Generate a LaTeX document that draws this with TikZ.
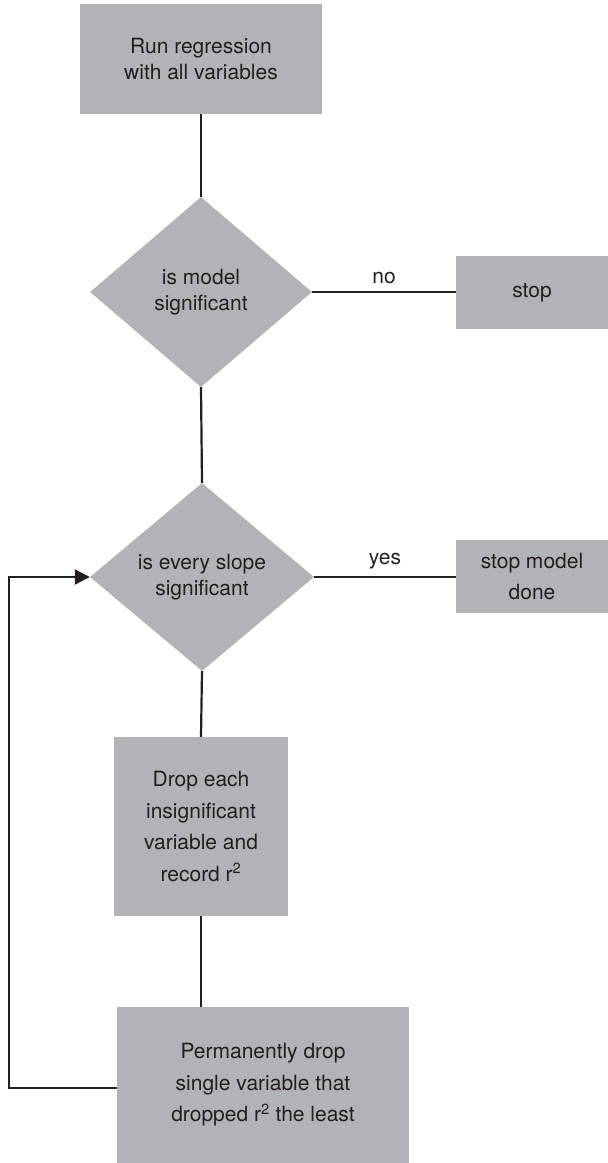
\documentclass[tikz,border=0pt]{standalone}
\usepackage{fontspec}
\setmainfont{TeX Gyre Heros}
\usetikzlibrary{shapes.geometric,arrows.meta}
\definecolor{boxgray}{HTML}{B2B3B5}
\definecolor{txt}{HTML}{231F20}
\definecolor{ln}{HTML}{231F20}
\tikzset{
  procbox/.style={rectangle, fill=boxgray, draw=none, inner sep=0pt, align=center, text=txt, font=\fontsize{21}{26}\selectfont},
  wide/.style={font=\fontsize{21}{31.5}\selectfont},
  decbox/.style={diamond, fill=boxgray, draw=none, inner sep=0pt, align=center, text=txt, font=\fontsize{21}{26}\selectfont},
  conn/.style={draw=ln, line width=2.2pt},
  lbl/.style={text=txt, font=\fontsize{21}{26}\selectfont, inner sep=0pt}
}
\begin{document}
\begin{tikzpicture}[x=1pt,y=-1pt]
\useasboundingbox (0,0) rectangle (608,1163);
\node[procbox, minimum width=242pt, minimum height=110pt] (run) at (201,59) {Run regression\\with all variables};
\node[decbox, minimum width=222pt, minimum height=190pt] (d1) at (201,292) {is model\\significant};
\node[procbox, minimum width=152pt, minimum height=73pt] (stop) at (532,292.5) {stop};
\node[decbox, minimum width=224pt, minimum height=188pt] (d2) at (202,577) {is every slope\\significant};
\node[procbox, wide, minimum width=152pt, minimum height=73pt] (done) at (532,576.5) {stop model\\done};
\node[procbox, wide, minimum width=174pt, minimum height=179pt] (drop) at (201,826.5) {Drop each\\insignificant\\variable and\\record r\textsuperscript{2}};
\node[procbox, wide, minimum width=292pt, minimum height=156pt] (perm) at (263,1085) {Permanently drop\\single variable that\\dropped r\textsuperscript{2} the least};
\coordinate (lb) at (9,1088);
\coordinate (lt) at (9,577);
\draw[conn] (run.south -| 201,0) -- (d1.north);
\draw[conn] (d1.east) -- node[lbl, above=7pt] {no} (stop.west |- d1.east);
\draw[conn] (d1.south) -- (d2.north);
\draw[conn] (d2.east) -- node[lbl, above=7pt] {yes} (done.west |- d2.east);
\draw[conn] (d2.south) -- (drop.north);
\draw[conn] (drop.south) -- (drop.south |- perm.north);
\draw[conn, -{Triangle[length=15pt,width=15pt]}] (perm.west |- lb) -- (lb) -- (lt) -- (d2.west);
\end{tikzpicture}
\end{document}
